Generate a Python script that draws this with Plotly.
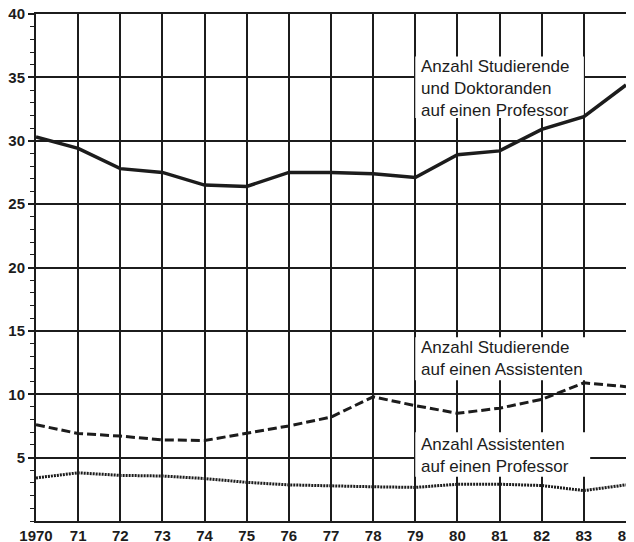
import plotly.graph_objects as go

years = list(range(1970, 1985))
year_labels = ["1970", "71", "72", "73", "74", "75", "76", "77", "78", "79", "80", "81", "82", "83", "84"]

stud_doct_per_prof = [30.3, 29.4, 27.8, 27.5, 26.5, 26.4, 27.5, 27.5, 27.4, 27.1, 28.9, 29.2, 30.9, 31.9, 34.4]
stud_per_assist = [7.6, 6.9, 6.7, 6.4, 6.35, 6.9, 7.5, 8.2, 9.8, 9.1, 8.5, 8.9, 9.6, 10.9, 10.6]
assist_per_prof = [3.4, 3.8, 3.6, 3.55, 3.35, 3.05, 2.85, 2.75, 2.7, 2.65, 2.9, 2.9, 2.8, 2.4, 2.85]

y_ticks = [5, 10, 15, 20, 25, 30, 35, 40]

label1 = "Anzahl Studierende<br>und Doktoranden<br>auf einen Professor"
label2 = "Anzahl Studierende<br>auf einen Assistenten"
label3 = "Anzahl Assistenten<br>auf einen Professor"

ink = "#1c1c1c"
font_family = "Liberation Sans, Arial, sans-serif"

fig = go.Figure()
fig.add_trace(go.Scatter(x=years, y=stud_doct_per_prof, mode="lines",
                         line=dict(color=ink, width=3.5), showlegend=False))
fig.add_trace(go.Scatter(x=years, y=stud_per_assist, mode="lines",
                         line=dict(color=ink, width=3, dash="9px,4px"), showlegend=False))
fig.add_trace(go.Scatter(x=years, y=assist_per_prof, mode="lines",
                         line=dict(color=ink, width=3, dash="2px,1px"), showlegend=False))

# white label boxes that hide the grid (drawn between grid and traces)
boxes = [(1979.0, 1983.0, 31.8, 36.65), (1979.0, 1983.2, 11.1, 14.5), (1979.0, 1983.15, 3.5, 7.0)]
for x0, x1, y0, y1 in boxes:
    fig.add_shape(type="rect", xref="x", yref="y", x0=x0, x1=x1, y0=y0, y1=y1,
                  fillcolor="white", line=dict(width=0), layer="between")

ann_font = dict(family=font_family, size=17, color=ink)
for txt, yv in [(label1, 34.1), (label2, 12.84), (label3, 5.13)]:
    fig.add_annotation(x=1979.12, y=yv, xref="x", yref="y", text=txt, showarrow=False,
                       xanchor="left", yanchor="middle", align="left", font=ann_font,
                       borderpad=0)

# the page body adds an 8px offset; margins compensate so the plot area lands where the reference has it
fig.update_layout(
    width=634, height=542,
    margin=dict(l=28, r=16, t=6, b=29),
    paper_bgcolor="white", plot_bgcolor="white",
    font=dict(family=font_family, color=ink),
)
fig.update_xaxes(
    range=[1970, 1984], tickvals=years, ticktext=year_labels,
    showgrid=True, gridcolor=ink, gridwidth=1.5,
    showline=True, linecolor=ink, linewidth=2, mirror=True,
    ticks="", zeroline=False, automargin=False, ticklabeloverflow="allow",
    tickfont=dict(family=font_family, size=15, color=ink, weight="bold"),
)
fig.update_yaxes(
    range=[0, 40], tickvals=y_ticks,
    showgrid=True, gridcolor=ink, gridwidth=1.5,
    showline=True, linecolor=ink, linewidth=2, mirror=True,
    ticks="outside", ticklen=6, tickwidth=1.5, tickcolor=ink,
    minor=dict(dtick=1, ticks="outside", ticklen=4, tickwidth=1.2, tickcolor=ink, showgrid=False),
    zeroline=False, automargin=False, ticklabeloverflow="allow",
    tickfont=dict(family=font_family, size=15, color=ink, weight="bold"),
)

fig.write_html("out.html")
